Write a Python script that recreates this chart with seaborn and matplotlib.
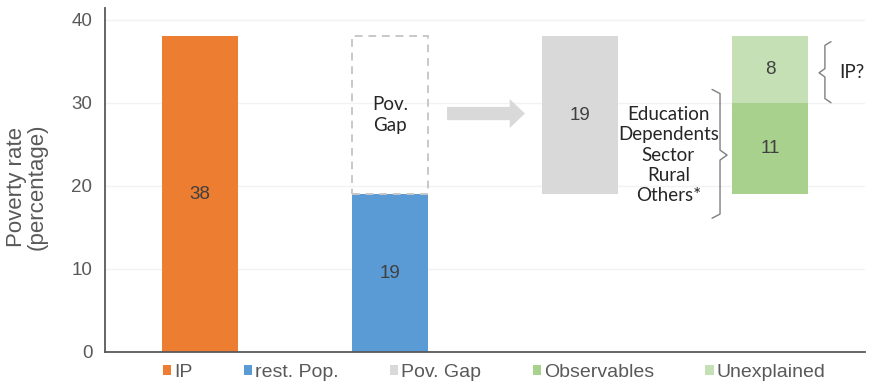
import pandas as pd
import matplotlib.pyplot as plt
from matplotlib.patches import Patch, FancyArrow
import seaborn as sns

# chart values
positions = ['IP', 'rest', 'gap', 'decomp']
ip_rate = 38
rest_rate = 19
gap = ip_rate - rest_rate
observables = 11
unexplained = 8

layer_names = ['IP', 'rest. Pop.', 'Pov. Gap', 'Observables', 'Unexplained']
layer_pos = ['IP', 'rest', 'gap', 'decomp', 'decomp']
layer_value = [ip_rate, rest_rate, gap, observables, unexplained]
layer_base = [0, 0, rest_rate, rest_rate, rest_rate + observables]
layer_colors = ['#ED7D31', '#5B9BD5', '#D9D9D9', '#A9D18E', '#C5E0B4']

factors = ['Education', 'Dependents', 'Sector', 'Rural', 'Others*']

df = pd.DataFrame({'name': layer_names, 'pos': layer_pos,
                   'value': layer_value, 'base': layer_base})

sns.set_style('white')
plt.rcParams['font.family'] = ['Liberation Sans', 'DejaVu Sans']

fig = plt.figure(figsize=(8.7, 3.86), dpi=100)
ax = fig.add_axes([105 / 870, 34 / 386, 760 / 870, 344 / 386])

for i, row in df.iterrows():
    sns.barplot(x=[row['pos']], y=[row['value']], order=positions, bottom=row['base'],
                width=0.4, color=layer_colors[i], saturation=1, errorbar=None,
                linewidth=0, ax=ax)
    ax.bar_label(ax.containers[-1], labels=[str(row['value'])], label_type='center',
                 fontsize=13.5, color='#404040')

# dashed outline of the gap above rest. Pop.
sns.barplot(x=['rest'], y=[gap], order=positions, bottom=rest_rate, width=0.4,
            color='#C8C8C8', fill=False, linestyle=(0, (4, 3)), linewidth=1.4,
            errorbar=None, ax=ax)
ax.bar_label(ax.containers[-1], labels=['Pov.\nGap'], label_type='center',
             fontsize=13.5, color='#262626', family=['Lato', 'DejaVu Sans'],
             linespacing=1.25)

# arrow
ax.add_patch(FancyArrow(1.30, 28.7, 0.41, 0, width=1.6, head_width=3.5,
                        head_length=0.08, length_includes_head=True,
                        color='#D9D9D9', lw=0))

# explained factors + brace
ax.text(2.465, 23.7, '\n'.join(factors), ha='center', va='center', fontsize=13.5,
        color='#262626', family=['Lato', 'DejaVu Sans'], linespacing=1.22)
ax.plot([2.695, 2.737, 2.737, 2.774, 2.737, 2.737, 2.695],
        [31.6, 31.1, 24.3, 23.7, 23.1, 16.6, 16.1], color='#7F7F7F', lw=1)

# unexplained brace
ax.plot([3.321, 3.289, 3.289, 3.258, 3.289, 3.289, 3.321],
        [37.35, 36.9, 34.1, 33.6, 33.1, 30.5, 30.0], color='#7F7F7F', lw=1)
ax.text(3.363, 33.6, 'IP?', ha='left', va='center', fontsize=13.5,
        color='#262626', family=['Lato', 'DejaVu Sans'])

ax.set_xlim(-0.5, 3.5)
ax.set_ylim(0, 41.4)
ax.set_yticks([0, 10, 20, 30, 40])
ax.set_xticks([])
ax.set_xlabel('')
ax.set_ylabel('Poverty rate\n(percentage)', fontsize=16, color='#595959', linespacing=0.95)
ax.yaxis.set_label_coords(-0.076, 0.48)
ax.tick_params(axis='y', length=0, pad=9, labelsize=13.5, labelcolor='#595959')
ax.yaxis.grid(True, color='#F2F2F2', lw=1)
ax.set_axisbelow(True)
for side in ['top', 'right']:
    ax.spines[side].set_visible(False)
for side in ['left', 'bottom']:
    ax.spines[side].set_color('#595959')
    ax.spines[side].set_linewidth(1.3)

handles = [Patch(facecolor=c, edgecolor='none', label=n)
           for n, c in zip(layer_names, layer_colors)]
fig.legend(handles=handles, loc='center', bbox_to_anchor=(0.568, 0.036), ncol=5,
           frameon=False, fontsize=14, labelcolor='#595959', handlelength=0.42,
           handleheight=0.42, handletextpad=0.15, columnspacing=2.65, borderpad=0)

fig.savefig('out.png', dpi=100)
